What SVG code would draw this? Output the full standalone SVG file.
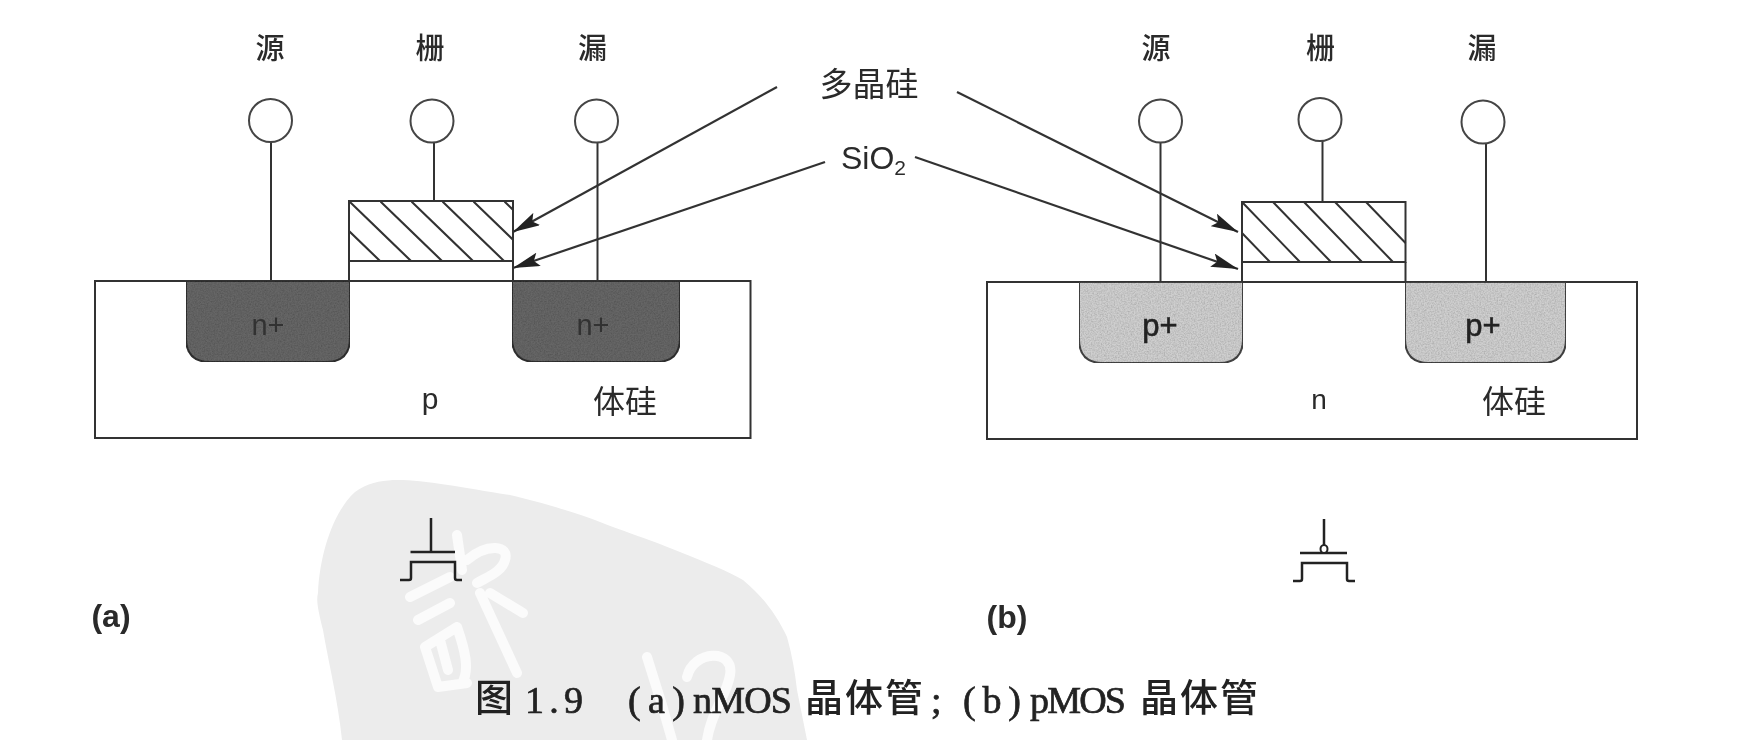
<svg xmlns="http://www.w3.org/2000/svg" width="1742" height="740" viewBox="0 0 1742 740">
<style>
.l{fill:none;stroke:#333;stroke-width:2}
.a{fill:none;stroke:#333;stroke-width:2.2}
.c{fill:#fff;stroke:#444;stroke-width:2}
.cjk{font-family:"Noto Sans CJK SC",sans-serif;font-weight:500;fill:#2a2a2a;text-anchor:middle}
.lat{font-family:"Liberation Sans",sans-serif;fill:#2a2a2a;text-anchor:middle}
.cap{font-family:"Liberation Serif","Noto Sans CJK SC",serif;font-size:38px;fill:#222;stroke:#222;stroke-width:.7}
.capc{font-family:"Noto Sans CJK SC",sans-serif;font-size:38px;font-weight:500;fill:#222}
.sym{fill:none;stroke:#222;stroke-width:2.5}
.wm{fill:none;stroke:#fbfbfb;stroke-width:10;stroke-linecap:round;stroke-linejoin:round}
</style>
<defs>
<pattern id="hatch" patternUnits="userSpaceOnUse" width="31" height="60" patternTransform="translate(349 201)">
<path d="M-31 0L31 60M0 0L62 60M-62 0L0 60" stroke="#333" stroke-width="2" fill="none"/>
</pattern>
<marker id="arrow" viewBox="0 0 27 14" refX="27" refY="7" markerWidth="27" markerHeight="14" markerUnits="userSpaceOnUse" orient="auto"><path d="M0 0L27 7L0 14L5 7Z" fill="#222"/></marker>
<filter id="grain" x="0" y="0" width="100%" height="100%"><feTurbulence type="fractalNoise" baseFrequency="0.7" numOctaves="2" seed="4"/><feColorMatrix values="0 0 0 0 0 0 0 0 0 0 0 0 0 0 0 0.6 0 0 0 -0.2"/><feComposite in2="SourceGraphic" operator="in"/><feMerge><feMergeNode in="SourceGraphic"/><feMergeNode/></feMerge></filter>
<filter id="soft" filterUnits="userSpaceOnUse" x="0" y="0" width="1742" height="740"><feGaussianBlur stdDeviation="0.55"/></filter>
</defs>
<rect width="1742" height="740" fill="#fff"/>
<g filter="url(#soft)">
<g id="watermark">
<path d="M393 480C420 479 460 487 510 495C540 502 577 513 600 522C620 530 643 537 680 552C705 562 730 572 743 580C765 598 778 618 787 637C792 655 795 672 797 690L807 740H342C338 700 328 660 323 630C318 610 316 600 318 593C320 550 335 510 355 492C367 483 380 481 393 480Z" fill="#ececec"/>
<path class="wm" d="M457 535L462 570M467 560C487 543 510 545 505 560C502 572 487 577 477 583M410 597L450 577M418 620L450 603M425 647L457 627M425 647L438 687L467 683M440 640L448 670M457 627C465 650 470 670 462 683M480 593L517 673M490 593L523 613"/>
<path class="wm" d="M647 657L662 705L672 740M687 677C693 650 735 648 730 675C727 695 711 712 707 740"/>
</g>
<g id="connectors">
<path class="a" d="M777 87L513 232" marker-end="url(#arrow)"/>
<path class="a" d="M825 162L513 268" marker-end="url(#arrow)"/>
<path class="a" d="M957 92L1238 232" marker-end="url(#arrow)"/>
<path class="a" d="M915 157L1238 269" marker-end="url(#arrow)"/>
</g>
<g id="nmos">
<rect id="a-body" class="l" x="95" y="281" width="655.500" height="157" fill="#fff"/>
<g id="a-source"><path d="M186 281V338Q186 362 210 362H326Q350 362 350 338V281Z" fill="#666" stroke="#333" stroke-width="2" filter="url(#grain)"/><text class="lat" x="268" y="335" font-size="29" style="fill:#333">n+</text></g>
<g id="a-drain"><path d="M512 281V338Q512 362 536 362H656Q680 362 680 338V281Z" fill="#666" stroke="#333" stroke-width="2" filter="url(#grain)"/><text class="lat" x="593" y="335" font-size="29" style="fill:#333">n+</text></g>
<g id="a-gate"><rect x="349" y="201" width="164" height="60" fill="url(#hatch)" stroke="#333" stroke-width="2"/><path class="l" d="M349 261V281M513 261V281M349 281H513"/></g>
<g id="a-s-term"><path class="l" d="M271 142V281"/><circle class="c" cx="270.500" cy="120.500" r="21.500"/><text class="cjk" x="270" y="59" font-size="29">源</text></g>
<g id="a-g-term"><path class="l" d="M434 142V201"/><circle class="c" cx="432" cy="121" r="21.500"/><text class="cjk" x="430" y="59" font-size="29">栅</text></g>
<g id="a-d-term"><path class="l" d="M597.500 142V281"/><circle class="c" cx="596.500" cy="121" r="21.500"/><text class="cjk" x="592.500" y="59" font-size="29">漏</text></g>
<text class="lat" x="430" y="409" font-size="30">p</text>
<text class="cjk" x="625" y="413" font-size="32" style="font-weight:400">体硅</text>
<g id="a-symbol"><path class="sym" d="M431 518V552M410.500 552H455M400 580H409Q411 580 411 578V562H455V578Q455 580 457 580H462"/></g>
<text class="lat" x="111" y="627" font-size="32" font-weight="700">(a)</text>
</g>
<g id="labels">
<text class="cjk" x="869" y="96" font-size="33" style="font-weight:400">多晶硅</text>
<text class="lat" x="841" y="169" font-size="32" style="text-anchor:start">SiO<tspan font-size="21" dy="6">2</tspan></text>
</g>
<g id="pmos">
<rect id="b-body" class="l" x="987" y="282" width="650" height="157" fill="#fff"/>
<g id="b-source"><path d="M1079 282V339Q1079 363 1103 363H1219Q1243 363 1243 339V282Z" fill="#cfcfcf" stroke="#444" stroke-width="2" filter="url(#grain)"/><text class="lat" x="1160" y="336" font-size="31" style="fill:#222;stroke:#222;stroke-width:.6">p+</text></g>
<g id="b-drain"><path d="M1405 282V339Q1405 363 1429 363H1542Q1566 363 1566 339V282Z" fill="#cfcfcf" stroke="#444" stroke-width="2" filter="url(#grain)"/><text class="lat" x="1483" y="336" font-size="31" style="fill:#222;stroke:#222;stroke-width:.6">p+</text></g>
<g id="b-gate"><rect x="1242" y="202" width="163.500" height="60" fill="#fff" stroke="#333" stroke-width="2"/><path d="M1242 202l58 60M1273 202l58 60M1304 202l58 60M1335 202l58 60M1366 202l39.500 41M1242 233l28 29" fill="none" stroke="#333" stroke-width="2"/><path class="l" d="M1242 262V282M1405.500 262V282M1242 282H1405.500"/></g>
<g id="b-s-term"><path class="l" d="M1160.500 142V282"/><circle class="c" cx="1160.500" cy="121" r="21.500"/><text class="cjk" x="1156" y="59" font-size="29">源</text></g>
<g id="b-g-term"><path class="l" d="M1322.500 141V202"/><circle class="c" cx="1320" cy="119.500" r="21.500"/><text class="cjk" x="1320.500" y="59" font-size="29">栅</text></g>
<g id="b-d-term"><path class="l" d="M1486 143V282"/><circle class="c" cx="1483" cy="122" r="21.500"/><text class="cjk" x="1482" y="59" font-size="29">漏</text></g>
<text class="lat" x="1319" y="409" font-size="28">n</text>
<text class="cjk" x="1514" y="413" font-size="32" style="font-weight:400">体硅</text>
<g id="b-symbol"><path class="sym" d="M1324 519V546M1300 553H1347M1293 581H1300Q1302 581 1302 579V563H1347V579Q1347 581 1349 581H1355"/><ellipse cx="1324" cy="549" rx="3.500" ry="4" fill="#fff" stroke="#222" stroke-width="2"/></g>
<text class="lat" x="1007" y="628" font-size="32" font-weight="700">(b)</text>
</g>
<g id="caption">
<text class="capc" x="475" y="711">图</text>
<text class="cap" x="525" y="713" textLength="58">1.9</text>
<text class="cap" x="628" y="713" textLength="57">(a)</text>
<text class="cap" x="693" y="713" textLength="99">nMOS</text>
<text class="capc" x="805" y="711" textLength="118">晶体管</text>
<text class="cap" x="931" y="713">;</text>
<text class="cap" x="963" y="713" textLength="58">(b)</text>
<text class="cap" x="1030" y="713" textLength="96">pMOS</text>
<text class="capc" x="1140" y="711" textLength="118">晶体管</text>
</g>
</g>
</svg>
